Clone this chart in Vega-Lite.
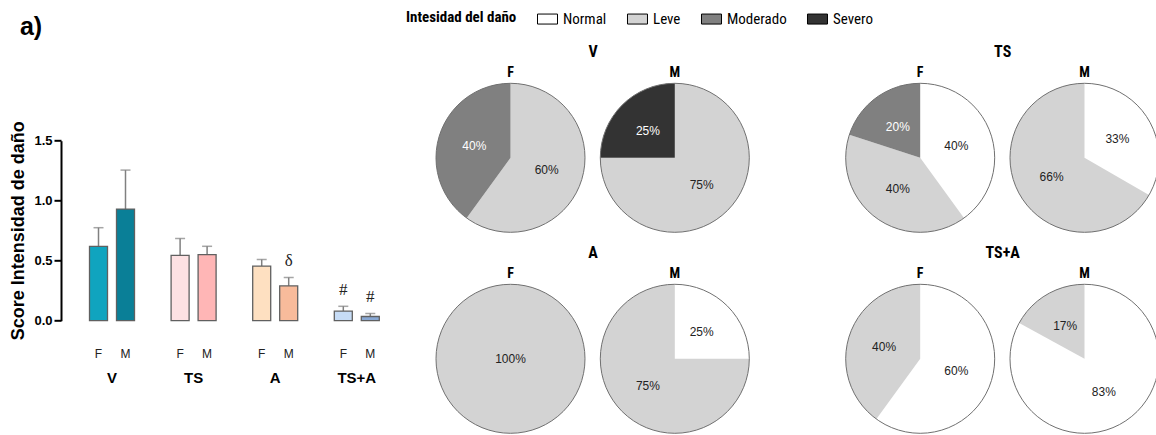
{
  "$schema": "https://vega.github.io/schema/vega-lite/v6.json",
  "background": "white",
  "padding": {"left": 9, "top": 8.3, "right": 0, "bottom": 0},
  "config": {
    "view": {"stroke": null},
    "font": "Liberation Sans"
  },
  "datasets": {
    "barras": [
      {"grupo": "V", "sexo": "F", "id": "V-F", "media": 0.62, "sup": 0.775, "signo": null},
      {"grupo": "V", "sexo": "M", "id": "V-M", "media": 0.93, "sup": 1.255, "signo": null},
      {"grupo": "TS", "sexo": "F", "id": "TS-F", "media": 0.545, "sup": 0.685, "signo": null},
      {"grupo": "TS", "sexo": "M", "id": "TS-M", "media": 0.55, "sup": 0.62, "signo": null},
      {"grupo": "A", "sexo": "F", "id": "A-F", "media": 0.455, "sup": 0.51, "signo": null},
      {"grupo": "A", "sexo": "M", "id": "A-M", "media": 0.29, "sup": 0.36, "signo": "δ"},
      {"grupo": "TS+A", "sexo": "F", "id": "TS+A-F", "media": 0.08, "sup": 0.12, "signo": "#"},
      {"grupo": "TS+A", "sexo": "M", "id": "TS+A-M", "media": 0.035, "sup": 0.06, "signo": "#"}
    ],
    "tortas": [
      {"grupo": "V", "sexo": "F", "nivel": "Leve", "score": 1, "prop": 0.6},
      {"grupo": "V", "sexo": "F", "nivel": "Moderado", "score": 2, "prop": 0.4},
      {"grupo": "V", "sexo": "M", "nivel": "Leve", "score": 1, "prop": 0.75},
      {"grupo": "V", "sexo": "M", "nivel": "Severo", "score": 3, "prop": 0.25},
      {"grupo": "TS", "sexo": "F", "nivel": "Normal", "score": 0, "prop": 0.4},
      {"grupo": "TS", "sexo": "F", "nivel": "Leve", "score": 1, "prop": 0.4},
      {"grupo": "TS", "sexo": "F", "nivel": "Moderado", "score": 2, "prop": 0.2},
      {"grupo": "TS", "sexo": "M", "nivel": "Normal", "score": 0, "prop": 0.33},
      {"grupo": "TS", "sexo": "M", "nivel": "Leve", "score": 1, "prop": 0.66},
      {"grupo": "A", "sexo": "F", "nivel": "Leve", "score": 1, "prop": 1.0},
      {"grupo": "A", "sexo": "M", "nivel": "Normal", "score": 0, "prop": 0.25},
      {"grupo": "A", "sexo": "M", "nivel": "Leve", "score": 1, "prop": 0.75},
      {"grupo": "TS+A", "sexo": "F", "nivel": "Normal", "score": 0, "prop": 0.6},
      {"grupo": "TS+A", "sexo": "F", "nivel": "Leve", "score": 1, "prop": 0.4},
      {"grupo": "TS+A", "sexo": "M", "nivel": "Normal", "score": 0, "prop": 0.83},
      {"grupo": "TS+A", "sexo": "M", "nivel": "Leve", "score": 1, "prop": 0.17}
    ]
  },
  "resolve": {"scale": {"color": "independent"}, "legend": {"color": "independent"}},
  "spacing": 22,
  "hconcat": [
    {
      "data": {"name": "barras"},
      "title": {"text": "a)", "anchor": "start", "frame": "bounds", "fontSize": 25, "fontWeight": "bold", "offset": 43, "dx": 10, "color": "black"},
      "facet": {
        "column": {
          "field": "grupo", "type": "nominal", "sort": ["V", "TS", "A", "TS+A"],
          "header": {"title": null, "labelOrient": "bottom", "labelFontSize": 15, "labelFontWeight": "bold", "labelColor": "black", "labelPadding": 12}
        }
      },
      "spacing": 27.6,
      "spec": {
        "width": 54,
        "height": 237.4,
        "encoding": {
          "x": {
            "field": "sexo", "type": "nominal", "sort": ["F", "M"],
            "scale": {"paddingInner": 0.333, "paddingOuter": 0.1667},
            "axis": {"title": null, "labelAngle": 0, "domain": false, "ticks": false, "labelPadding": 26, "labelFontSize": 12, "labelColor": "#222"}
          }
        },
        "layer": [
          {
            "mark": {"type": "rule", "color": "#808080", "strokeWidth": 1.5},
            "encoding": {
              "y": {
                "field": "media", "type": "quantitative", "title": "Score Intensidad de daño",
                "scale": {"domain": [0, 1.97833], "nice": false},
                "axis": {
                  "values": [0, 0.5, 1, 1.5], "format": ".1f", "grid": false, "offset": 24,
                  "domainColor": "black", "domainWidth": 2, "domainDash": [180, 1000],
                  "tickColor": "black", "tickWidth": 2, "tickSize": 7,
                  "labelFontSize": 13, "labelFontWeight": "bold", "labelColor": "black", "labelPadding": 2,
                  "titleFontSize": 18, "titleFontWeight": "bold", "titleColor": "black", "titlePadding": 6, "titleY": 147
                }
              },
              "y2": {"field": "sup"}
            }
          },
          {
            "mark": {"type": "tick", "orient": "horizontal", "color": "#808080", "thickness": 1.5, "size": 10},
            "encoding": {"y": {"field": "sup", "type": "quantitative", "title": "Score Intensidad de daño", "scale": {"domain": [0, 1.97833], "nice": false}}}
          },
          {
            "mark": {"type": "bar", "stroke": "#606060", "strokeWidth": 1.3},
            "encoding": {
              "y": {"field": "media", "type": "quantitative", "title": "Score Intensidad de daño", "scale": {"domain": [0, 1.97833], "nice": false}},
              "color": {
                "field": "id", "type": "nominal", "legend": null,
                "scale": {
                  "domain": ["V-F", "V-M", "TS-F", "TS-M", "A-F", "A-M", "TS+A-F", "TS+A-M"],
                  "range": ["#10a4bf", "#0a7f97", "#fde1e3", "#ffb6b6", "#fee0c1", "#f8bb9b", "#c6dcf6", "#88a8d4"]
                }
              }
            }
          },
          {
            "transform": [{"filter": "datum.signo != null"}],
            "mark": {"type": "text", "dy": -16, "fontSize": 17, "font": "Liberation Serif", "color": "#222"},
            "encoding": {
              "y": {"field": "sup", "type": "quantitative", "title": "Score Intensidad de daño", "scale": {"domain": [0, 1.97833], "nice": false}},
              "text": {"field": "signo"}
            }
          }
        ]
      }
    },
    {
      "data": {"name": "tortas"},
      "spacing": 11,
      "vconcat": [
        {
          "spacing": 91.7,
          "hconcat": [
            {
              "transform": [{"filter": "datum.grupo == 'V'"}],
              "facet": {"column": {"field": "sexo", "type": "nominal", "sort": ["F", "M"], "title": "V",
                "header": {"titleFontSize": 16, "titleFontWeight": "bold", "titleFont": "Liberation Sans Narrow, Roboto Condensed, Liberation Sans", "titleColor": "black", "titlePadding": -4,
                  "labelFontSize": 14, "labelFontWeight": "bold", "labelFont": "Liberation Sans Narrow, Roboto Condensed, Liberation Sans", "labelColor": "black", "labelPadding": 1}}},
              "spacing": 11.3,
              "spec": {
                "width": 149, "height": 149,
                "layer": [
                  {
                    "mark": {"type": "arc", "stroke": null},
                    "encoding": {
                      "theta": {"field": "prop", "type": "quantitative", "stack": "normalize"},
                      "order": {"field": "score", "type": "quantitative"},
                      "color": {"field": "nivel", "type": "nominal", "title": "Intesidad del daño",
                        "scale": {"domain": ["Normal", "Leve", "Moderado", "Severo"], "range": ["#ffffff", "#d3d3d3", "#808080", "#333333"]},
                        "legend": {"orient": "none", "legendX": -30, "legendY": -75, "direction": "horizontal", "titleOrient": "left", "symbolType": "M-1,-0.5H1V0.5H-1Z", "symbolSize": 400, "symbolStrokeColor": "black", "symbolStrokeWidth": 1, "labelFontSize": 15, "titleFontSize": 15, "labelFont": "Liberation Sans Narrow, Roboto Condensed, Liberation Sans", "titleFont": "Liberation Sans Narrow, Roboto Condensed, Liberation Sans", "titleFontWeight": "bold", "titleColor": "black", "labelColor": "black", "columnPadding": 18, "labelOffset": 5, "titlePadding": 20}}
                    }
                  },
                  {
                    "transform": [{"aggregate": [{"op": "count", "as": "n"}], "groupby": ["sexo"]}],
                    "mark": {"type": "arc", "filled": false, "stroke": "#6f6f6f", "strokeWidth": 1, "theta": 0, "theta2": 6.2832},
                    "encoding": {}
                  },
                  {
                    "mark": {"type": "text", "fontSize": 12, "radius": {"expr": "datum.prop >= 1 ? 0 : 38"}},
                    "encoding": {
                      "theta": {"field": "prop", "type": "quantitative", "stack": "normalize"},
                      "order": {"field": "score", "type": "quantitative"},
                      "text": {"field": "prop", "type": "quantitative", "format": ".0%"},
                      "color": {"condition": {"test": "datum.score >= 2", "value": "white"}, "value": "#222"}
                    }
                  }
                ]
              }
            },
            {
              "transform": [{"filter": "datum.grupo == 'TS'"}],
              "facet": {"column": {"field": "sexo", "type": "nominal", "sort": ["F", "M"], "title": "TS",
                "header": {"titleFontSize": 16, "titleFontWeight": "bold", "titleFont": "Liberation Sans Narrow, Roboto Condensed, Liberation Sans", "titleColor": "black", "titlePadding": -4,
                  "labelFontSize": 14, "labelFontWeight": "bold", "labelFont": "Liberation Sans Narrow, Roboto Condensed, Liberation Sans", "labelColor": "black", "labelPadding": 1}}},
              "spacing": 11.3,
              "spec": {
                "width": 149, "height": 149,
                "layer": [
                  {
                    "mark": {"type": "arc", "stroke": null},
                    "encoding": {
                      "theta": {"field": "prop", "type": "quantitative", "stack": "normalize"},
                      "order": {"field": "score", "type": "quantitative"},
                      "color": {"field": "nivel", "type": "nominal", "title": "Intesidad del daño",
                        "scale": {"domain": ["Normal", "Leve", "Moderado", "Severo"], "range": ["#ffffff", "#d3d3d3", "#808080", "#333333"]},
                        "legend": {"orient": "none", "legendX": -30, "legendY": -75, "direction": "horizontal", "titleOrient": "left", "symbolType": "M-1,-0.5H1V0.5H-1Z", "symbolSize": 400, "symbolStrokeColor": "black", "symbolStrokeWidth": 1, "labelFontSize": 15, "titleFontSize": 15, "labelFont": "Liberation Sans Narrow, Roboto Condensed, Liberation Sans", "titleFont": "Liberation Sans Narrow, Roboto Condensed, Liberation Sans", "titleFontWeight": "bold", "titleColor": "black", "labelColor": "black", "columnPadding": 18, "labelOffset": 5, "titlePadding": 20}}
                    }
                  },
                  {
                    "transform": [{"aggregate": [{"op": "count", "as": "n"}], "groupby": ["sexo"]}],
                    "mark": {"type": "arc", "filled": false, "stroke": "#6f6f6f", "strokeWidth": 1, "theta": 0, "theta2": 6.2832},
                    "encoding": {}
                  },
                  {
                    "mark": {"type": "text", "fontSize": 12, "radius": {"expr": "datum.prop >= 1 ? 0 : 38"}},
                    "encoding": {
                      "theta": {"field": "prop", "type": "quantitative", "stack": "normalize"},
                      "order": {"field": "score", "type": "quantitative"},
                      "text": {"field": "prop", "type": "quantitative", "format": ".0%"},
                      "color": {"condition": {"test": "datum.score >= 2", "value": "white"}, "value": "#222"}
                    }
                  }
                ]
              }
            }
          ]
        },
        {
          "spacing": 91.7,
          "hconcat": [
            {
              "transform": [{"filter": "datum.grupo == 'A'"}],
              "facet": {"column": {"field": "sexo", "type": "nominal", "sort": ["F", "M"], "title": "A",
                "header": {"titleFontSize": 16, "titleFontWeight": "bold", "titleFont": "Liberation Sans Narrow, Roboto Condensed, Liberation Sans", "titleColor": "black", "titlePadding": -4,
                  "labelFontSize": 14, "labelFontWeight": "bold", "labelFont": "Liberation Sans Narrow, Roboto Condensed, Liberation Sans", "labelColor": "black", "labelPadding": 1}}},
              "spacing": 11.3,
              "spec": {
                "width": 149, "height": 149,
                "layer": [
                  {
                    "mark": {"type": "arc", "stroke": null},
                    "encoding": {
                      "theta": {"field": "prop", "type": "quantitative", "stack": "normalize"},
                      "order": {"field": "score", "type": "quantitative"},
                      "color": {"field": "nivel", "type": "nominal", "title": "Intesidad del daño",
                        "scale": {"domain": ["Normal", "Leve", "Moderado", "Severo"], "range": ["#ffffff", "#d3d3d3", "#808080", "#333333"]},
                        "legend": {"orient": "none", "legendX": -30, "legendY": -75, "direction": "horizontal", "titleOrient": "left", "symbolType": "M-1,-0.5H1V0.5H-1Z", "symbolSize": 400, "symbolStrokeColor": "black", "symbolStrokeWidth": 1, "labelFontSize": 15, "titleFontSize": 15, "labelFont": "Liberation Sans Narrow, Roboto Condensed, Liberation Sans", "titleFont": "Liberation Sans Narrow, Roboto Condensed, Liberation Sans", "titleFontWeight": "bold", "titleColor": "black", "labelColor": "black", "columnPadding": 18, "labelOffset": 5, "titlePadding": 20}}
                    }
                  },
                  {
                    "transform": [{"aggregate": [{"op": "count", "as": "n"}], "groupby": ["sexo"]}],
                    "mark": {"type": "arc", "filled": false, "stroke": "#6f6f6f", "strokeWidth": 1, "theta": 0, "theta2": 6.2832},
                    "encoding": {}
                  },
                  {
                    "mark": {"type": "text", "fontSize": 12, "radius": {"expr": "datum.prop >= 1 ? 0 : 38"}},
                    "encoding": {
                      "theta": {"field": "prop", "type": "quantitative", "stack": "normalize"},
                      "order": {"field": "score", "type": "quantitative"},
                      "text": {"field": "prop", "type": "quantitative", "format": ".0%"},
                      "color": {"condition": {"test": "datum.score >= 2", "value": "white"}, "value": "#222"}
                    }
                  }
                ]
              }
            },
            {
              "transform": [{"filter": "datum.grupo == 'TS+A'"}],
              "facet": {"column": {"field": "sexo", "type": "nominal", "sort": ["F", "M"], "title": "TS+A",
                "header": {"titleFontSize": 16, "titleFontWeight": "bold", "titleFont": "Liberation Sans Narrow, Roboto Condensed, Liberation Sans", "titleColor": "black", "titlePadding": -4,
                  "labelFontSize": 14, "labelFontWeight": "bold", "labelFont": "Liberation Sans Narrow, Roboto Condensed, Liberation Sans", "labelColor": "black", "labelPadding": 1}}},
              "spacing": 11.3,
              "spec": {
                "width": 149, "height": 149,
                "layer": [
                  {
                    "mark": {"type": "arc", "stroke": null},
                    "encoding": {
                      "theta": {"field": "prop", "type": "quantitative", "stack": "normalize"},
                      "order": {"field": "score", "type": "quantitative"},
                      "color": {"field": "nivel", "type": "nominal", "title": "Intesidad del daño",
                        "scale": {"domain": ["Normal", "Leve", "Moderado", "Severo"], "range": ["#ffffff", "#d3d3d3", "#808080", "#333333"]},
                        "legend": {"orient": "none", "legendX": -30, "legendY": -75, "direction": "horizontal", "titleOrient": "left", "symbolType": "M-1,-0.5H1V0.5H-1Z", "symbolSize": 400, "symbolStrokeColor": "black", "symbolStrokeWidth": 1, "labelFontSize": 15, "titleFontSize": 15, "labelFont": "Liberation Sans Narrow, Roboto Condensed, Liberation Sans", "titleFont": "Liberation Sans Narrow, Roboto Condensed, Liberation Sans", "titleFontWeight": "bold", "titleColor": "black", "labelColor": "black", "columnPadding": 18, "labelOffset": 5, "titlePadding": 20}}
                    }
                  },
                  {
                    "transform": [{"aggregate": [{"op": "count", "as": "n"}], "groupby": ["sexo"]}],
                    "mark": {"type": "arc", "filled": false, "stroke": "#6f6f6f", "strokeWidth": 1, "theta": 0, "theta2": 6.2832},
                    "encoding": {}
                  },
                  {
                    "mark": {"type": "text", "fontSize": 12, "radius": {"expr": "datum.prop >= 1 ? 0 : 38"}},
                    "encoding": {
                      "theta": {"field": "prop", "type": "quantitative", "stack": "normalize"},
                      "order": {"field": "score", "type": "quantitative"},
                      "text": {"field": "prop", "type": "quantitative", "format": ".0%"},
                      "color": {"condition": {"test": "datum.score >= 2", "value": "white"}, "value": "#222"}
                    }
                  }
                ]
              }
            }
          ]
        }
      ]
    }
  ]
}
